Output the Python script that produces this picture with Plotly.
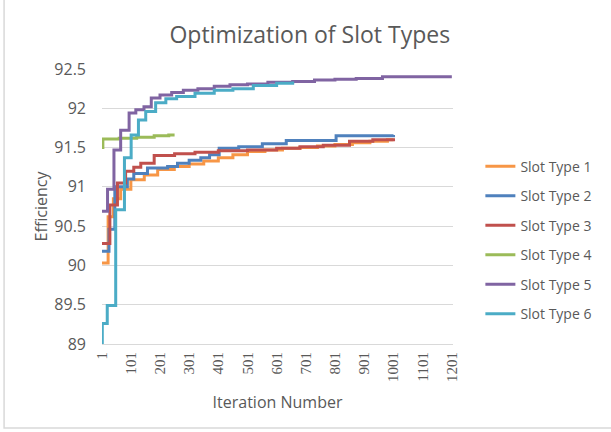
import plotly.graph_objects as go

# Step-change points (iteration, efficiency) for each slot type
names = ["Slot Type 1", "Slot Type 2", "Slot Type 3", "Slot Type 4", "Slot Type 5", "Slot Type 6"]

st1_iter = [1, 22, 40, 65, 100, 146, 192, 249, 300, 350, 400, 450, 500, 560, 620, 680, 740, 800, 860, 920, 980, 1001]
st1_eff = [90.03, 90.62, 90.85, 90.97, 91.09, 91.15, 91.22, 91.26, 91.29, 91.33, 91.37, 91.41, 91.45, 91.47, 91.49, 91.5, 91.52, 91.54, 91.56, 91.58, 91.6, 91.6]

st2_iter = [1, 25, 45, 88, 110, 157, 226, 260, 300, 340, 370, 403, 470, 551, 633, 804, 1001]
st2_eff = [90.18, 90.46, 91.0, 91.1, 91.17, 91.24, 91.26, 91.3, 91.34, 91.37, 91.41, 91.49, 91.51, 91.55, 91.59, 91.65, 91.66]

st3_iter = [1, 28, 54, 82, 110, 134, 180, 250, 320, 400, 500, 600, 680, 760, 850, 930, 1001]
st3_eff = [90.28, 90.77, 91.05, 91.2, 91.25, 91.3, 91.4, 91.42, 91.44, 91.46, 91.47, 91.49, 91.51, 91.53, 91.58, 91.6, 91.62]

st4_iter = [1, 4, 60, 120, 180, 230, 250]
st4_eff = [91.5, 91.61, 91.62, 91.63, 91.65, 91.66, 91.66]

st5_iter = [1, 20, 42, 65, 94, 117, 145, 170, 200, 240, 280, 330, 386, 440, 500, 570, 655, 730, 800, 873, 963, 1201]
st5_eff = [90.69, 90.97, 91.47, 91.72, 91.94, 91.98, 92.02, 92.13, 92.17, 92.2, 92.23, 92.25, 92.28, 92.3, 92.31, 92.33, 92.34, 92.36, 92.37, 92.38, 92.4, 92.4]

st6_iter = [1, 2, 19, 48, 78, 101, 126, 151, 185, 220, 257, 320, 386, 450, 520, 600, 655]
st6_eff = [89.0, 89.26, 89.49, 90.71, 91.37, 91.66, 91.85, 91.96, 92.07, 92.12, 92.15, 92.19, 92.23, 92.25, 92.29, 92.32, 92.34]

x_ticks = [1, 101, 201, 301, 401, 501, 601, 701, 801, 901, 1001, 1101, 1201]
y_ticks = [89, 89.5, 90, 90.5, 91, 91.5, 92, 92.5]
y_tick_labels = ["89", "89.5", "90", "90.5", "91", "91.5", "92", "92.5"]

colors = ["#F79646", "#4F81BD", "#C0504D", "#9BBB59", "#8064A2", "#4BACC6"]
series = [(st1_iter, st1_eff), (st2_iter, st2_eff), (st3_iter, st3_eff),
          (st4_iter, st4_eff), (st5_iter, st5_eff), (st6_iter, st6_eff)]

fig = go.Figure()
for i, (xs, ys) in enumerate(series):
    fig.add_trace(go.Scatter(
        x=xs, y=ys, mode="lines", name=names[i],
        line=dict(color=colors[i], width=3, shape="hv"),
        legendgroup=f"g{i}",
    ))

grey = "#595959"
fig.update_layout(
    width=611, height=432,
    margin=dict(l=102, r=158, t=69, b=88),
    paper_bgcolor="white", plot_bgcolor="white",
    font=dict(family="Open Sans, sans-serif", color=grey, size=14),
    title=dict(text="Optimization of Slot Types", x=0.507, xanchor="center",
               y=1 - 35 / 432, yanchor="middle", yref="container",
               font=dict(size=23, color=grey)),
    xaxis=dict(range=[1, 1205], tickmode="array", tickvals=x_ticks,
               ticktext=[str(v) for v in x_ticks], tickangle=-90,
               tickfont=dict(family="Liberation Serif, serif", size=15, color=grey),
               showgrid=False, zeroline=False, showline=True, linecolor="#D9D9D9",
               linewidth=1, ticks="", ticklabelstandoff=1,
               title=dict(text="Iteration Number", font=dict(size=16, color=grey), standoff=15)),
    yaxis=dict(range=[89, 92.5], tickmode="array", tickvals=y_ticks, ticktext=y_tick_labels,
               showgrid=True, gridcolor="#D9D9D9", gridwidth=1, zeroline=False,
               showline=False, ticks="", ticklabelstandoff=15,
               tickfont=dict(size=16, color=grey),
               title=dict(text="Efficiency", font=dict(size=16, color=grey), standoff=2)),
    legend=dict(x=1.078, y=0.703, xanchor="left", yanchor="top",
                font=dict(size=14, color=grey), tracegroupgap=8.3,
                bgcolor="rgba(0,0,0,0)"),
    shapes=[dict(type="rect", xref="paper", yref="paper",
                 x0=-0.279, x1=1.46, y0=-0.305, y1=1.27,
                 line=dict(color="#D9D9D9", width=1.5), layer="below")],
)

fig.write_html("out.html", config={"displayModeBar": False},
               post_script="document.body.style.margin='0';")
